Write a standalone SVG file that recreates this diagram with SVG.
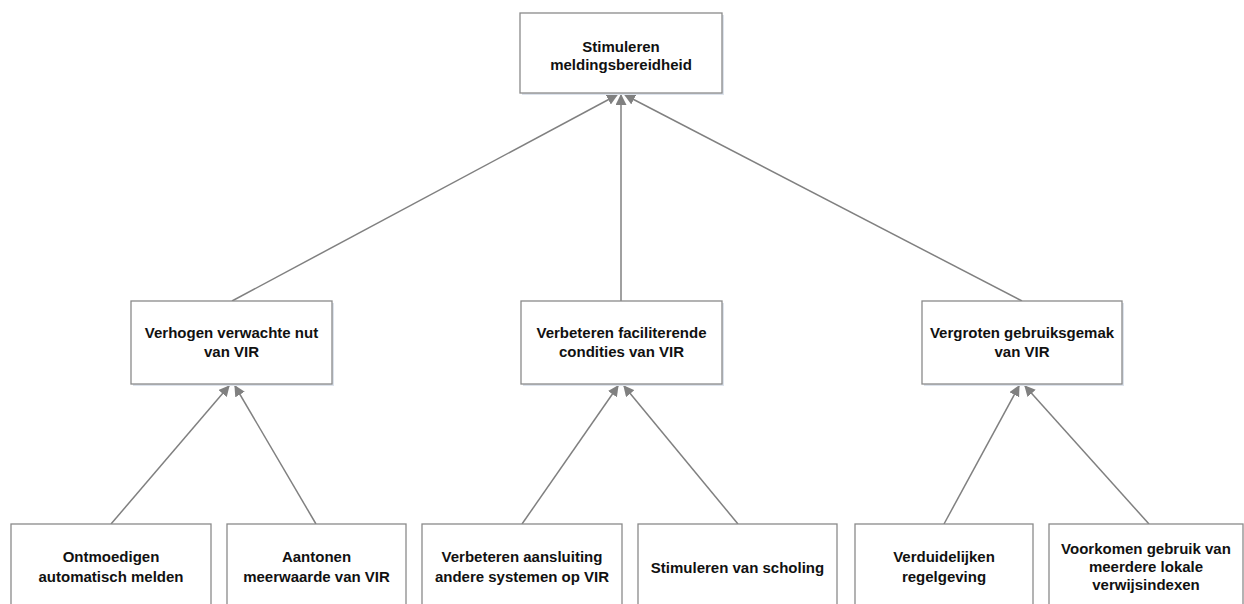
<svg xmlns="http://www.w3.org/2000/svg" width="1244" height="604" viewBox="0 0 1244 604">
<defs>
<style>
.box{fill:#ffffff;stroke:#8a8a8a;stroke-width:1.3}
.sh{fill:#dde3ec}
.t{font-family:"Liberation Sans",Arial,sans-serif;font-weight:bold;font-size:15px;fill:#111111;text-anchor:middle}
.c{stroke:#808080;stroke-width:1.5;fill:none;marker-end:url(#ah)}
</style>
<marker id="ah" viewBox="0 0 10 10" refX="9" refY="5" markerWidth="11" markerHeight="11" markerUnits="userSpaceOnUse" orient="auto">
<path d="M0,0 L10,5 L0,10 z" fill="#808080"/>
</marker>
</defs>
<rect width="1244" height="604" fill="#ffffff"/>
<g id="connectors">
<line class="c" x1="232" y1="301" x2="617" y2="95"/>
<line class="c" x1="621" y1="301" x2="621" y2="95"/>
<line class="c" x1="1022" y1="301" x2="625" y2="95"/>
<line class="c" x1="111" y1="524" x2="229" y2="386"/>
<line class="c" x1="316" y1="524" x2="235" y2="386"/>
<line class="c" x1="522" y1="524" x2="618" y2="386"/>
<line class="c" x1="738" y1="524" x2="624" y2="386"/>
<line class="c" x1="944" y1="524" x2="1019" y2="386"/>
<line class="c" x1="1149" y1="524" x2="1025" y2="386"/>
</g>
<g id="n-top">
<rect class="sh" x="522" y="15" width="202" height="80"/>
<rect class="box" x="520" y="13" width="202" height="80"/>
<text class="t" x="621" y="52">Stimuleren</text>
<text class="t" x="621" y="70">meldingsbereidheid</text>
</g>
<g id="n-verhogen">
<rect class="sh" x="133" y="303" width="201" height="83"/>
<rect class="box" x="131" y="301" width="201" height="83"/>
<text class="t" x="231.5" y="338">Verhogen verwachte nut</text>
<text class="t" x="231.5" y="357">van VIR</text>
</g>
<g id="n-verbeteren">
<rect class="sh" x="523" y="303" width="201" height="83"/>
<rect class="box" x="521" y="301" width="201" height="83"/>
<text class="t" x="621.5" y="338">Verbeteren faciliterende</text>
<text class="t" x="621.5" y="357">condities van VIR</text>
</g>
<g id="n-vergroten">
<rect class="sh" x="924" y="303" width="200" height="83"/>
<rect class="box" x="922" y="301" width="200" height="83"/>
<text class="t" x="1022" y="338">Vergroten gebruiksgemak</text>
<text class="t" x="1022" y="357">van VIR</text>
</g>
<g id="n-ontmoedigen">
<rect class="box" x="11" y="524" width="200" height="100"/>
<text class="t" x="111" y="562">Ontmoedigen</text>
<text class="t" x="111" y="582">automatisch melden</text>
</g>
<g id="n-aantonen">
<rect class="box" x="227" y="524" width="179" height="100"/>
<text class="t" x="316.5" y="562">Aantonen</text>
<text class="t" x="316.5" y="582">meerwaarde van VIR</text>
</g>
<g id="n-aansluiting">
<rect class="box" x="422" y="524" width="200" height="100"/>
<text class="t" x="522" y="562">Verbeteren aansluiting</text>
<text class="t" x="522" y="582">andere systemen op VIR</text>
</g>
<g id="n-scholing">
<rect class="box" x="638" y="524" width="199" height="100"/>
<text class="t" x="737.5" y="573">Stimuleren van scholing</text>
</g>
<g id="n-regelgeving">
<rect class="box" x="855" y="524" width="178" height="100"/>
<text class="t" x="944" y="562">Verduidelijken</text>
<text class="t" x="944" y="582">regelgeving</text>
</g>
<g id="n-verwijsindexen">
<rect class="box" x="1049" y="524" width="194" height="100"/>
<text class="t" x="1146" y="554">Voorkomen gebruik van</text>
<text class="t" x="1146" y="572">meerdere lokale</text>
<text class="t" x="1146" y="590">verwijsindexen</text>
</g>
</svg>
